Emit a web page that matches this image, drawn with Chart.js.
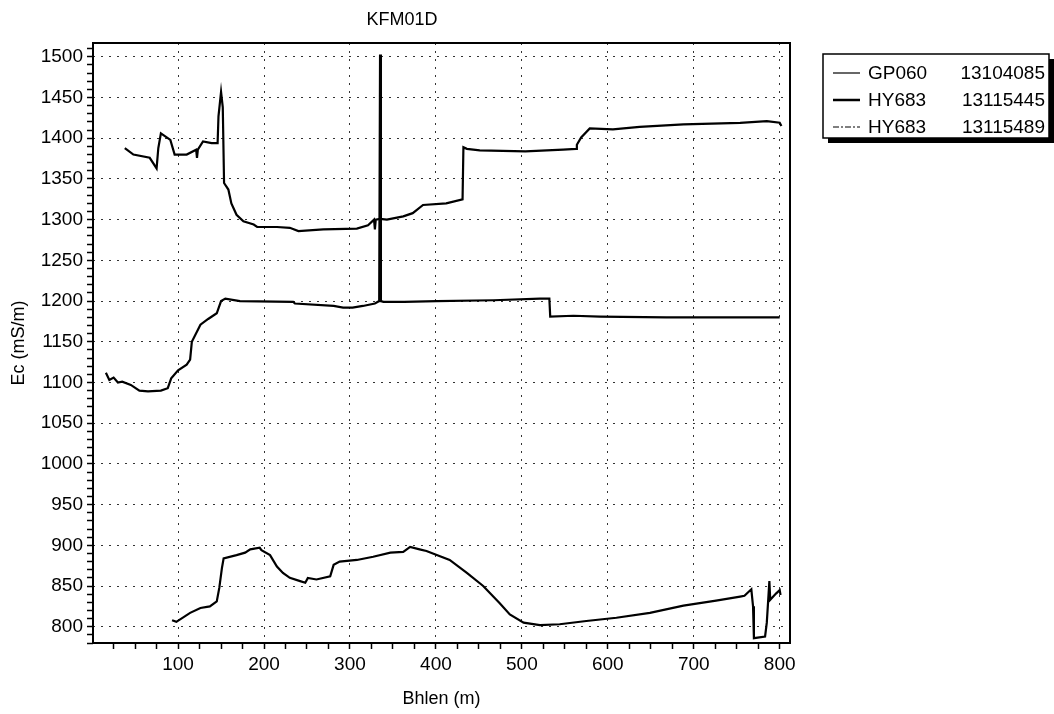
<!DOCTYPE html>
<html>
<head>
<meta charset="utf-8">
<title>KFM01D</title>
<script src="https://cdn.jsdelivr.net/npm/chart.js@4.4.1/dist/chart.umd.min.js"></script>
<style>
  html, body { margin: 0; padding: 0; background: #fff; }
  #wrap { width: 1054px; height: 714px; position: relative; }
</style>
</head>
<body>
<div id="wrap"><canvas id="chart" width="1054" height="714"></canvas></div>
<script>
// Chart data
const chartTitle = 'KFM01D';
const xTitle = 'Bhlen (m)';
const yTitle = 'Ec (mS/m)';

// legend entries (instrument, serial)
const seriesNames = ['GP060', 'HY683', 'HY683'];
const seriesIds = ['13104085', '13115445', '13115489'];

// lower curve
const lowX = [93, 98, 114, 126, 137, 145, 148, 151, 153, 168, 178, 184, 195, 197, 207, 215, 222, 230, 242, 248, 251, 261, 277, 281, 288, 308, 327, 347, 362, 370, 381, 389, 401, 416, 436, 455, 474, 486, 502, 521, 544, 575, 610, 649, 688, 726, 754, 759, 767, 769, 770, 783, 785, 788, 789, 796, 800, 801];
const lowY = [808, 806, 817, 823, 825, 831, 848, 872, 884, 888, 891, 895, 897, 894, 888, 874, 866, 860, 856, 854, 860, 858, 862, 876, 880, 882, 886, 891, 892, 898, 895, 893, 888, 882, 866, 850, 829, 815, 805, 802, 803, 807, 811, 817, 826, 832, 837, 838, 846, 825, 786, 788, 805, 856, 833, 841, 845, 839];

// middle curve (with the spike near 335 m)
const midX = [16, 20, 25, 30, 35, 45, 55, 65, 80, 88, 92, 100, 110, 114, 116, 126, 135, 145, 150, 155, 172, 234, 236, 281, 292, 303, 315, 329, 334, 335, 336, 339, 363, 401, 467, 521, 532, 533, 560, 591, 668, 800];
const midY = [1112, 1103, 1106, 1100, 1101, 1097, 1090, 1089, 1090, 1093, 1105, 1115, 1122, 1128, 1150, 1171, 1178, 1185, 1200, 1203, 1200, 1199, 1197, 1194, 1192, 1192, 1194, 1197, 1200, 1503, 1200, 1199, 1199, 1200, 1201, 1203, 1203, 1181, 1182, 1181, 1180, 1180];

// upper curve
const upX = [38, 48, 67, 75, 77, 80, 91, 96, 110, 121, 122, 123, 129, 139, 146, 147, 150, 152, 153.5, 158.5, 162, 168, 176, 188, 192, 215, 230, 240, 269, 308, 321, 328, 329, 330, 335, 343, 362, 373, 385, 412, 431, 432, 436, 451, 504, 548, 563, 564, 569, 579, 606, 637, 688, 754, 785, 800, 802];
const upY = [1388, 1380, 1376, 1363, 1388, 1406, 1398, 1380, 1380, 1386, 1376, 1386, 1396, 1394, 1394, 1427, 1457, 1438, 1345, 1337, 1320, 1306, 1298, 1294, 1291, 1291, 1290, 1286, 1288, 1289, 1293, 1300, 1288, 1300, 1301, 1300, 1304, 1308, 1318, 1320, 1325, 1389, 1387, 1385, 1384, 1386, 1387, 1392, 1401, 1412, 1411, 1414, 1417, 1419, 1421, 1419, 1415];

// axis ticks
const xTicks = [25, 50, 75, 100, 125, 150, 175, 200, 225, 250, 275, 300, 325, 350, 375, 400, 425, 450, 475, 500, 525, 550, 575, 600, 625, 650, 675, 700, 725, 750, 775, 800];
const xLabels = [100, 200, 300, 400, 500, 600, 700, 800];
const yTicks = [];
for (let v = 780; v <= 1510; v += 10) yTicks.push(v);
const yLabels = [800, 850, 900, 950, 1000, 1050, 1100, 1150, 1200, 1250, 1300, 1350, 1400, 1450, 1500];

function toPoints(xs, ys) {
  return xs.map((x, i) => ({ x: x, y: ys[i] }));
}

const FONT = '"Liberation Sans", Arial, sans-serif';

// legend + title + frame drawn on top of the chart
const framePlugin = {
  id: 'frame',
  afterDraw(chart) {
    const ctx = chart.ctx;
    const a = chart.chartArea;
    ctx.save();
    ctx.strokeStyle = '#000';
    ctx.lineWidth = 2;
    ctx.strokeRect(a.left, a.top, a.right - a.left, a.bottom - a.top);

    // title
    ctx.fillStyle = '#000';
    ctx.font = '18px ' + FONT;
    ctx.textAlign = 'center';
    ctx.textBaseline = 'middle';
    ctx.fillText(chartTitle, 402, 20);

    // legend box with shadow
    const lx = 823, ly = 54, lw = 226, lh = 84;
    ctx.fillStyle = '#000';
    ctx.fillRect(lx + 5, ly + 5, lw, lh);
    ctx.fillStyle = '#fff';
    ctx.fillRect(lx, ly, lw, lh);
    ctx.lineWidth = 1.5;
    ctx.strokeRect(lx, ly, lw, lh);
    ctx.font = '19px ' + FONT;
    ctx.textAlign = 'left';
    const widths = [1.2, 2.5, 1.2];
    chart.data.datasets.forEach((ds, i) => {
      const y = ly + 19 + i * 27;
      ctx.beginPath();
      ctx.lineWidth = widths[i];
      ctx.setLineDash(i === 2 ? [6, 2, 2, 2] : []);
      ctx.moveTo(lx + 10, y);
      ctx.lineTo(lx + 37, y);
      ctx.stroke();
      ctx.setLineDash([]);
      ctx.fillStyle = '#000';
      ctx.fillText(seriesNames[i], lx + 45, y + 1);
      ctx.textAlign = 'right';
      ctx.fillText(seriesIds[i], lx + lw - 4, y + 1);
      ctx.textAlign = 'left';
    });
    ctx.restore();
  }
};

const gridColor = (step) => (c) => (c.tick && c.tick.value % step === 0 ? '#333' : 'rgba(0,0,0,0)');

new Chart(document.getElementById('chart'), {
  type: 'line',
  data: {
    datasets: [
      { label: seriesNames[0] + ' ' + seriesIds[0], data: toPoints(lowX, lowY) },
      { label: seriesNames[1] + ' ' + seriesIds[1], data: toPoints(midX, midY) },
      { label: seriesNames[2] + ' ' + seriesIds[2], data: toPoints(upX, upY) }
    ].map(ds => Object.assign(ds, {
      borderColor: '#000',
      borderWidth: 2.2,
      pointRadius: 0,
      tension: 0,
      fill: false
    }))
  },
  options: {
    responsive: false,
    animation: false,
    layout: { padding: { left: 0, right: 264, top: 43, bottom: 4 } },
    plugins: {
      legend: { display: false },
      title: { display: false },
      tooltip: { enabled: false }
    },
    scales: {
      x: {
        type: 'linear',
        min: 1,
        max: 812,
        afterBuildTicks: (s) => { s.ticks = xTicks.map(v => ({ value: v })); },
        afterFit: (s) => { s.height = 67; },
        border: { display: false, dash: [2, 6] },
        grid: {
          color: gridColor(100),
          lineWidth: 1,
          tickColor: '#000',
          tickLength: 6,
          tickWidth: 1.5
        },
        ticks: {
          autoSkip: false,
          maxRotation: 0,
          padding: 4,
          color: '#000',
          font: { family: FONT, size: 19 },
          callback: (v) => (xLabels.includes(v) ? String(v) : '')
        },
        title: {
          display: true,
          text: xTitle,
          color: '#000',
          font: { family: FONT, size: 18 },
          padding: { top: 2, bottom: 0 }
        }
      },
      y: {
        type: 'linear',
        min: 780,
        max: 1517,
        afterBuildTicks: (s) => { s.ticks = yTicks.map(v => ({ value: v })); },
        afterFit: (s) => { s.width = 93; },
        border: { display: false, dash: [2, 6] },
        grid: {
          color: gridColor(50),
          lineWidth: 1,
          tickColor: '#000',
          tickLength: 6,
          tickWidth: 1.5
        },
        ticks: {
          autoSkip: false,
          padding: 4,
          color: '#000',
          font: { family: FONT, size: 19 },
          callback: (v) => (yLabels.includes(v) ? String(v) : '')
        },
        title: {
          display: true,
          text: yTitle,
          color: '#000',
          font: { family: FONT, size: 18 },
          padding: { top: 8, bottom: 0 }
        }
      }
    }
  },
  plugins: [framePlugin]
});
</script>
</body>
</html>
